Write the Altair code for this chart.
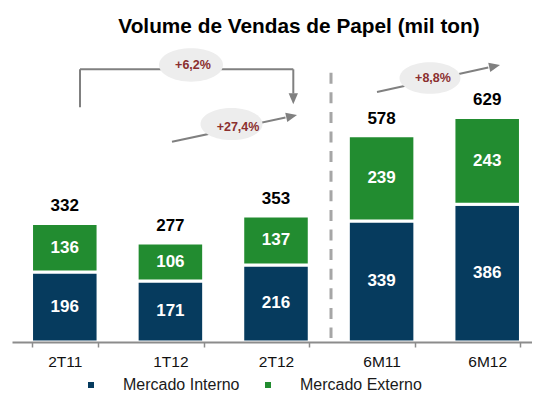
import altair as alt
import pandas as pd

# ---------------- data ----------------
periods = ["2T11", "1T12", "2T12", "6M11", "6M12"]
interno = [196, 171, 216, 339, 386]
externo = [136, 106, 137, 239, 243]
totals = [332, 277, 353, 578, 629]
series = ["Mercado Interno", "Mercado Externo"]
growth_labels = ["+6,2%", "+27,4%", "+8,8%"]

# ---------------- styles ----------------
FONT = "Liberation Sans"
BLUE = "#063B5E"
GREEN = "#228C30"
GRAY = "#808080"
RED = "#8B2F2F"
W, H = 528, 282
YMAX = 790

rows = []
for p, i, e in zip(periods, interno, externo):
    rows.append({"period": p, "serie": series[0], "value": i, "ord": 0})
    rows.append({"period": p, "serie": series[1], "value": e, "ord": 1})
df = pd.DataFrame(rows)
tot = pd.DataFrame({"period": periods, "total": totals})

xscale = alt.Scale(domain=periods, paddingInner=0.37, paddingOuter=0.185)
yscale = alt.Scale(domain=[0, YMAX])

x_axis = alt.Axis(
    title=None, labelAngle=0, tickBand="extent", grid=False,
    domainColor="#8C8C8C", domainWidth=2, tickColor="#8C8C8C", tickWidth=1.5,
    tickSize=5, labelFont=FONT, labelFontSize=15.5, labelColor="#111111",
    labelPadding=7, zindex=1,
)
X = alt.X("period:N", sort=periods, scale=xscale, axis=x_axis)

bars = alt.Chart(df).mark_bar(stroke="white", strokeWidth=3).encode(
    x=X,
    y=alt.Y("value:Q", stack="zero", scale=yscale, axis=None),
    color=alt.Color(
        "serie:N", sort=series,
        scale=alt.Scale(domain=series, range=[BLUE, GREEN]),
        legend=alt.Legend(
            title=None, orient="none", direction="horizontal",
            legendX=71, legendY=317, symbolType="square", symbolSize=36,
            symbolStrokeWidth=0, labelFont=FONT, labelFontSize=16,
            labelColor="#1a1a1a", labelOffset=24, columnPadding=20, padding=0,
        ),
    ),
    order=alt.Order("ord:Q", sort="ascending"),
)

inner = alt.Chart(df).transform_stack(
    stack="value", as_=["v0", "v1"], groupby=["period"],
    sort=[alt.SortField("ord", order="ascending")],
).transform_calculate(mid="(datum.v0 + datum.v1) / 2").mark_text(
    font=FONT, fontSize=17, fontWeight="bold", color="white", baseline="middle"
).encode(
    x=X,
    y=alt.Y("mid:Q", scale=yscale, axis=None),
    text="value:Q",
)

top_labels = alt.Chart(tot).mark_text(
    font=FONT, fontSize=17, fontWeight="bold", color="black",
    baseline="middle", dy=-17,
).encode(
    x=X,
    y=alt.Y("total:Q", scale=yscale, axis=None),
    text="total:Q",
)

# ---------------- annotations (pixel geometry inside plot area) ----------------
divider = alt.Chart(pd.DataFrame({"d": [0]})).mark_rule(
    color="#A6A6A6", strokeWidth=3, strokeDash=[11, 8.6]
).encode(x=alt.value(319), y=alt.value(12.7), y2=alt.value(278))

seg = pd.DataFrame({
    "x": [68, 68, 281.3, 160, 365],
    "y": [47.3, 9.3, 9.3, 81.7, 32],
    "x2": [68, 281.3, 281.3, 273.5, 476.3],
    "y2": [9.3, 9.3, 33.5, 57.6, 7.6],
})
lines = alt.Chart(seg).mark_rule(color=GRAY, strokeWidth=2).encode(
    x=alt.X("x:Q", scale=None), y=alt.Y("y:Q", scale=None),
    x2="x2:Q", y2="y2:Q",
)

heads = pd.DataFrame({
    "x": [281.3, 285, 488],
    "y": [44.3, 55, 5],
    "a": [90, 347.4, 347.6],
})
arrowheads = alt.Chart(heads).mark_point(
    shape="M0,0L-2,-0.85L-2,0.85Z", filled=True, color=GRAY, opacity=1,
    size=121, strokeWidth=0,
).encode(
    x=alt.X("x:Q", scale=None), y=alt.Y("y:Q", scale=None),
    angle=alt.Angle("a:Q", scale=None),
)

ELLIPSE = ("M-1,0C-1,-0.287,-0.553,-0.52,0,-0.52C0.553,-0.52,1,-0.287,1,0"
           "C1,0.287,0.553,0.52,0,0.52C-0.553,0.52,-1,0.287,-1,0Z")
ell = pd.DataFrame({
    "x": [179, 219.5, 418],
    "y": [5, 64, 18],
    "s": [4096, 3844, 3721],
})
ellipses = alt.Chart(ell).mark_point(
    shape=ELLIPSE, filled=True, color="#EDEDED", opacity=1, strokeWidth=0
).encode(
    x=alt.X("x:Q", scale=None), y=alt.Y("y:Q", scale=None),
    size=alt.Size("s:Q", scale=None),
)

gtxt = pd.DataFrame({
    "x": [181, 226, 421],
    "y": [5, 67, 18.3],
    "label": growth_labels,
})
growth = alt.Chart(gtxt).mark_text(
    font=FONT, fontSize=12.5, fontWeight="bold", color=RED, baseline="middle"
).encode(
    x=alt.X("x:Q", scale=None), y=alt.Y("y:Q", scale=None), text="label:N"
)

chart = alt.layer(
    bars, inner, top_labels, divider, lines, arrowheads, ellipses, growth
).properties(
    width=W, height=H,
    title=alt.TitleParams(
        "Volume de Vendas de Papel (mil ton)", font=FONT, fontSize=20.8,
        fontWeight="bold", color="black", anchor="middle", frame="group",
        dx=23, offset=-5, baseline="alphabetic",
    ),
    autosize=alt.AutoSizeParams(type="none"),
    padding={"left": 4, "top": 52, "right": -8, "bottom": 51},
).configure_view(stroke=None)

chart.save("out.html", embed_options={"renderer": "svg", "actions": False})
